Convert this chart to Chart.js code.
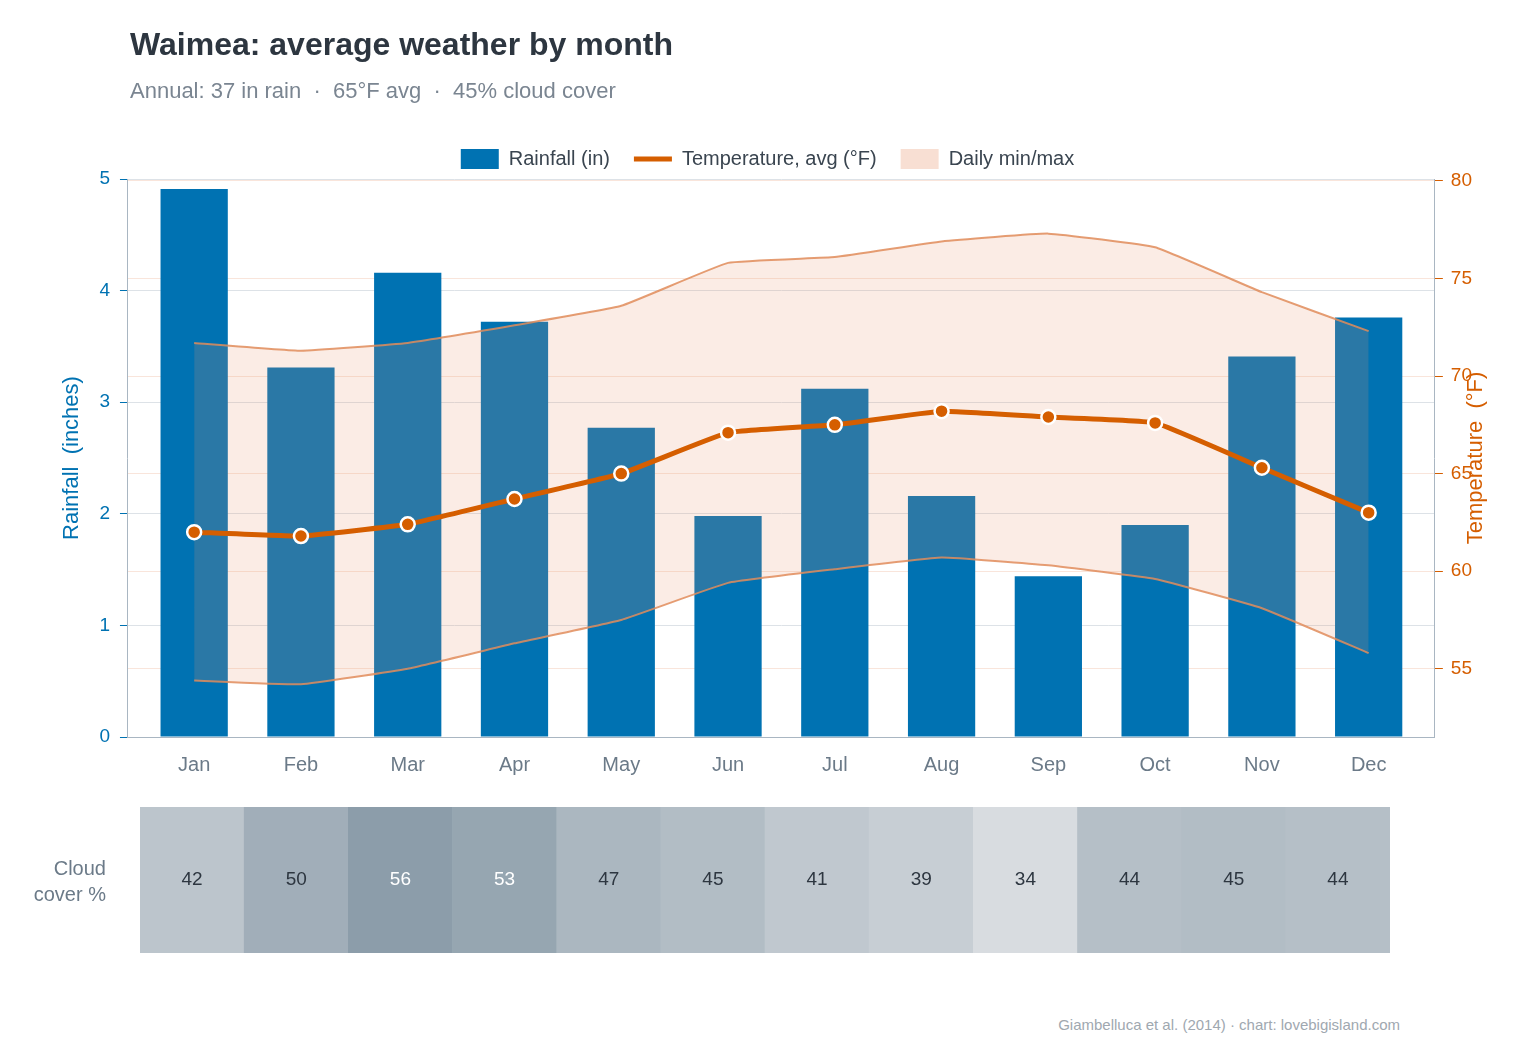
<!DOCTYPE html>
<html><head><meta charset="utf-8">
<script src="https://cdn.jsdelivr.net/npm/chart.js@4/dist/chart.umd.min.js"></script>
<style>
body{margin:0;background:#fff;font-family:"Liberation Sans",Arial,sans-serif;}
#main{position:absolute;left:0;top:0;width:1530px;height:800px;}
#cloud{position:absolute;left:0;top:800px;width:1530px;height:160px;}
#title{position:absolute;left:130px;top:26px;color:#2d3640;font-size:32px;font-weight:bold;}
#sub{position:absolute;left:130px;top:78px;color:#7a8591;font-size:22px;white-space:pre;}
#clabel{position:absolute;left:0;top:855px;width:106px;text-align:right;color:#6b7a88;font-size:20px;line-height:26px;}
#foot{position:absolute;right:130px;top:1016px;color:#a0a8b0;font-size:15px;}
</style></head><body>
<div id="main"><canvas id="c1"></canvas></div>
<div id="cloud"><canvas id="c2"></canvas></div>
<div id="title">Waimea: average weather by month</div>
<div id="sub">Annual: 37 in rain  ·  65°F avg  ·  45% cloud cover</div>
<div id="clabel">Cloud<br>cover %</div>
<div id="foot">Giambelluca et al. (2014) · chart: lovebigisland.com</div>
<script>
const months=["Jan","Feb","Mar","Apr","May","Jun","Jul","Aug","Sep","Oct","Nov","Dec"];
const rainfall=[4.91,3.31,4.16,3.72,2.77,1.98,3.12,2.16,1.44,1.90,3.41,3.76];
const tempAvg=[62.0,61.8,62.4,63.7,65.0,67.1,67.5,68.2,67.9,67.6,65.3,63.0];
const tempMax=[71.7,71.3,71.7,72.6,73.6,75.8,76.1,76.9,77.3,76.6,74.3,72.3];
const tempMin=[54.4,54.2,55.0,56.3,57.5,59.4,60.1,60.7,60.3,59.6,58.1,55.8];
const cloud=[42,50,56,53,47,45,41,39,34,44,45,44];
const F='"Liberation Sans",Arial,sans-serif';
Chart.defaults.font.family=F;
const xy=a=>a.map((v,i)=>({x:i,y:v}));
const rightTitle={id:'rt',afterDraw(ch){const c=ch.ctx,a=ch.chartArea;c.save();c.translate(1476,(a.top+a.bottom)/2);c.rotate(-Math.PI/2);
 c.font='22px '+F;c.fillStyle='#d55e00';c.textAlign='center';c.textBaseline='middle';c.fillText('Temperature  (°F)',0,0);c.restore();}};
new Chart(document.getElementById('c1'),{
 data:{datasets:[
  {type:'bar',label:'Rainfall (in)',data:xy(rainfall),backgroundColor:'#0072b2',yAxisID:'y',order:3,categoryPercentage:0.63,barPercentage:1},
  {type:'line',label:'Daily min/max',data:xy(tempMax),yAxisID:'y1',borderColor:'rgba(225,140,90,0.85)',borderWidth:2,pointRadius:0,fill:'+1',backgroundColor:'rgba(232,150,110,0.18)',order:2,tension:0.1},
  {type:'line',label:'min',data:xy(tempMin),yAxisID:'y1',borderColor:'rgba(225,140,90,0.85)',borderWidth:2,pointRadius:0,fill:false,order:2,tension:0.1},
  {type:'line',label:'Temperature, avg (°F)',data:xy(tempAvg),yAxisID:'y1',borderColor:'#d55e00',borderWidth:5,pointRadius:7,pointBackgroundColor:'#d55e00',pointBorderColor:'#fff',pointBorderWidth:2.5,order:1,tension:0.1}
 ]},
 options:{responsive:true,maintainAspectRatio:false,animation:false,
  layout:{padding:{left:55,right:50,top:125,bottom:15}},
  plugins:{
   legend:{labels:{color:'#3a4550',font:{size:20},padding:24,usePointStyle:true,
     generateLabels(ch){const d=ch.data.datasets;return [
      {text:'Rainfall (in)',fillStyle:'#0072b2',strokeStyle:'#0072b2',lineWidth:0,pointStyle:'rect',datasetIndex:0,fontColor:'#3a4550'},
      {text:'Temperature, avg (°F)',fillStyle:'#d55e00',strokeStyle:'#d55e00',lineWidth:5,pointStyle:'line',datasetIndex:3,fontColor:'#3a4550'},
      {text:'Daily min/max',fillStyle:'rgba(232,150,110,0.3)',strokeStyle:'rgba(232,150,110,0.3)',lineWidth:0,pointStyle:'rect',datasetIndex:1,fontColor:'#3a4550'}];},
     pointStyleWidth:38}},
   tooltip:{enabled:false}},
  scales:{
   x:{type:'linear',offset:false,min:-0.62,max:11.62,afterBuildTicks:a=>{a.ticks=months.map((m,i)=>({value:i}));},
      grid:{display:false},border:{color:'#a9b6c2'},ticks:{color:'#6b7a88',font:{size:20},padding:8,callback:v=>months[v]}},
   y:{position:'left',min:0,max:5,ticks:{stepSize:1,color:'#0072b2',font:{size:19},padding:10},grid:{color:'#dde2e7',tickLength:8,tickColor:'#0072b2'},border:{color:'#a9b6c2'},
      title:{display:true,text:'Rainfall  (inches)',color:'#0072b2',font:{size:22}}},
   y1:{position:'right',min:51.5,max:80.1,afterBuildTicks:a=>{a.ticks=[55,60,65,70,75,80].map(v=>({value:v}));},
      ticks:{color:'#d55e00',font:{size:19},padding:8},grid:{drawOnChartArea:true,color:'rgba(230,150,110,0.25)',tickLength:8,tickColor:'#d55e00'},border:{color:'#a9b6c2'}}
  }},
 plugins:[rightTitle]
});
function cc(v){const t=(v-34)/(56-34);const a=[216,220,224],b=[140,157,170];return `rgb(${a.map((x,i)=>Math.round(x+(b[i]-x)*t)).join(',')})`;}
new Chart(document.getElementById('c2'),{
 type:'bar',
 data:{labels:months,datasets:[{data:cloud.map(()=>1),backgroundColor:cloud.map(cc),categoryPercentage:1,barPercentage:1}]},
 options:{responsive:true,maintainAspectRatio:false,animation:false,
  layout:{padding:{left:140,right:140,top:7,bottom:7}},
  plugins:{legend:{display:false},tooltip:{enabled:false}},
  scales:{x:{display:false},y:{display:false,min:0,max:1}}},
 plugins:[{id:'lbl',afterDatasetsDraw(ch){const c=ch.ctx;const m=ch.getDatasetMeta(0);c.save();c.font='19px '+F;c.textAlign='center';c.textBaseline='middle';
  m.data.forEach((b,i)=>{c.fillStyle=cloud[i]>=53?'#ffffff':'#2d3640';c.fillText(String(cloud[i]),b.x,(ch.chartArea.top+ch.chartArea.bottom)/2);});c.restore();}}]
});
</script></body></html>
